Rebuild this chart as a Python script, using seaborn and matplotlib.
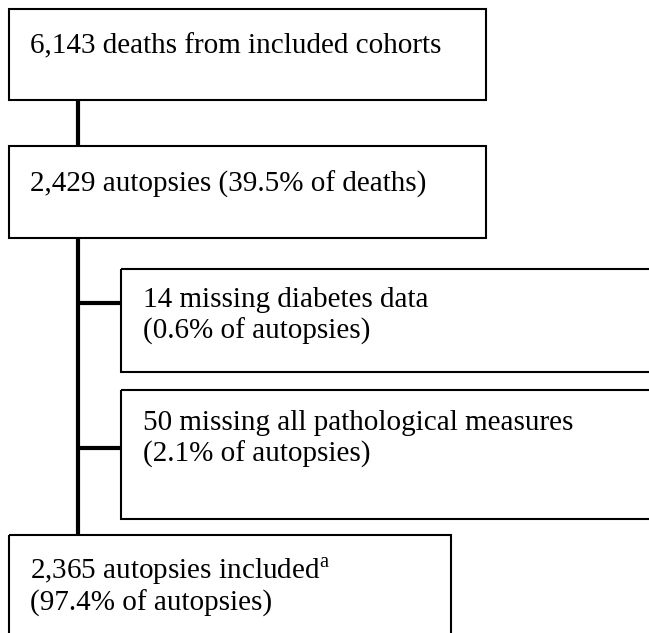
import matplotlib
matplotlib.use("Agg")
import matplotlib.pyplot as plt
from matplotlib.patches import Rectangle
import seaborn as sns

# --- data: counts at each step of the flow ---
step_counts = [6143, 2429, 14, 50, 2365]
step_labels = ["deaths from included cohorts", "autopsies", "missing diabetes data",
               "missing all pathological measures", "autopsies included"]
denominators = [None, 0, 1, 1, 1]          # index of the step used for the percentage
denom_names = [None, "deaths", "autopsies", "autopsies", "autopsies"]

sns.set_theme(style="white")
plt.rcParams['font.family'] = ['Liberation Serif', 'DejaVu Serif']
plt.rcParams['mathtext.fontset'] = 'custom'
plt.rcParams['mathtext.rm'] = 'Liberation Serif'


def step_text(i):
    n = f"{step_counts[i]:,}"
    if denominators[i] is None:
        return [f"{n} {step_labels[i]}"]
    pct = 100 * step_counts[i] / step_counts[denominators[i]]
    pct_txt = f"({pct:.1f}% of {denom_names[i]})"
    if i == 1:
        return [f"{n} {step_labels[i]} {pct_txt}"]
    first = f"{n} {step_labels[i]}"
    if i == 4:
        first += r"$^{\mathrm{a}}$"
    return [first, pct_txt]


# --- layout in pixel units (x0, y0, x1, y1), y grows downward ---
boxes = [(9, 9, 486, 100), (9, 146, 486, 238), (121, 269, 700, 372),
         (121, 390, 700, 519), (9, 535, 451, 700)]
text_pos = [(30, 53), (30, 192), (143, 307), (143, 430), (30, 579)]
branch_y = [303, 448]
line_gap = 32
spine_x = 78

fig = plt.figure(figsize=(6.49, 6.33), dpi=100)
ax = fig.add_axes([0, 0, 1, 1])
ax.set_xlim(0, 649)
ax.set_ylim(633, 0)
ax.axis("off")

for (x0, y0, x1, y1) in boxes:
    ax.add_patch(Rectangle((x0, y0), x1 - x0, y1 - y0, fill=False,
                           edgecolor="black", linewidth=1.5, clip_on=True))

# connectors
ax.plot([spine_x, spine_x], [boxes[0][3], boxes[1][1]], color="black", lw=3, solid_capstyle="butt")
ax.plot([spine_x, spine_x], [boxes[1][3], boxes[4][1]], color="black", lw=3, solid_capstyle="butt")
for b, yb in zip((boxes[2], boxes[3]), branch_y):
    ax.plot([spine_x, b[0]], [yb, yb], color="black", lw=3, solid_capstyle="butt")

for i in range(len(step_counts)):
    tx, ty = text_pos[i]
    for k, line in enumerate(step_text(i)):
        ax.text(tx, ty + k * line_gap, line, fontsize=21, ha="left", va="baseline",
                color="black")

fig.savefig("out.png", dpi=100)
